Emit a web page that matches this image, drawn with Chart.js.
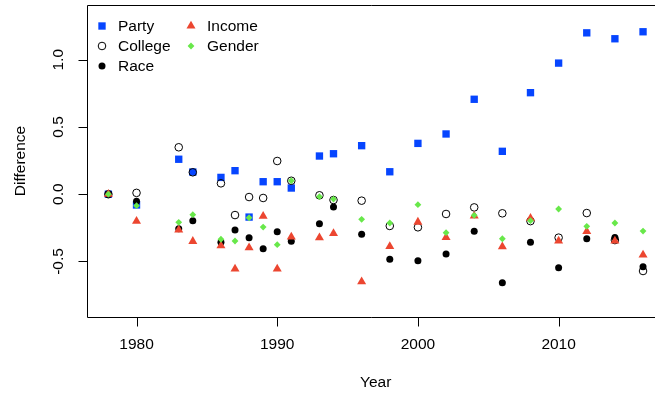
<!DOCTYPE html>
<html>
<head>
<meta charset="utf-8">
<script src="https://cdn.jsdelivr.net/npm/chart.js@4/dist/chart.umd.min.js"></script>
<style>
  html, body { margin: 0; padding: 0; background: #fff; }
  #wrap { width: 655px; height: 395px; }
</style>
</head>
<body>
<div id="wrap"><canvas id="scatter" width="655" height="395"></canvas></div>
<script>
// values
const years = [1978, 1980, 1983, 1984, 1986, 1987, 1988, 1989, 1990, 1991, 1993, 1994,
  1996, 1998, 2000, 2002, 2004, 2006, 2008, 2010, 2012, 2014, 2016];
const party = [0, -0.08, 0.26, 0.165, 0.125, 0.175, -0.17, 0.093, 0.093, 0.046, 0.284, 0.301,
  0.361, 0.167, 0.378, 0.448, 0.706, 0.319, 0.755, 0.975, 1.2, 1.156, 1.208];
const college = [0, 0.01, 0.349, 0.163, 0.081, -0.155, -0.021, -0.028, 0.247, 0.1, -0.008, -0.043,
  -0.048, -0.236, -0.246, -0.147, -0.098, -0.142, -0.2, -0.323, -0.14, -0.341, -0.571];
const race = [0, -0.053, -0.256, -0.197, -0.358, -0.266, -0.323, -0.405, -0.279, -0.35, -0.219, -0.095,
  -0.298, -0.484, -0.494, -0.445, -0.276, -0.658, -0.358, -0.546, -0.331, -0.321, -0.539];
const income = [0, -0.2, -0.266, -0.35, -0.383, -0.556, -0.398, -0.164, -0.556, -0.318, -0.323, -0.291,
  -0.65, -0.388, -0.207, -0.321, -0.162, -0.39, -0.179, -0.348, -0.276, -0.348, -0.452];
const gender = [0, -0.085, -0.209, -0.152, -0.335, -0.348, -0.175, -0.244, -0.375, 0.1, -0.018, -0.036,
  -0.187, -0.214, -0.078, -0.286, -0.157, -0.331, -0.197, -0.11, -0.239, -0.214, -0.274];

const xTicks = [1980, 1990, 2000, 2010];
const yTicks = [-0.5, 0, 0.5, 1.0];
const yTickLabels = ["-0.5", "0.0", "0.5", "1.0"];

const FONT = '15.5px "Liberation Sans", Arial, Helvetica, sans-serif';

function pts(vals) {
  return years.map((yr, i) => ({ x: yr, y: vals[i] }));
}

const series = [
  { label: "Party", data: pts(party), pointStyle: "rect", pointRadius: 5.2,
    backgroundColor: "#0645ff", borderColor: "#0645ff", borderWidth: 0, order: 5 },
  { label: "College", data: pts(college), pointStyle: "circle", pointRadius: 3.8,
    backgroundColor: "rgba(0,0,0,0)", borderColor: "#000", borderWidth: 1, order: 4 },
  { label: "Race", data: pts(race), pointStyle: "circle", pointRadius: 3.5,
    backgroundColor: "#000", borderColor: "#000", borderWidth: 0, order: 3 },
  { label: "Income", data: pts(income), pointStyle: "triangle", pointRadius: 5.2,
    backgroundColor: "#ec4630", borderColor: "#ec4630", borderWidth: 0, order: 2 },
  { label: "Gender", data: pts(gender), pointStyle: "rectRot", pointRadius: 3.4,
    backgroundColor: "#68e84a", borderColor: "#68e84a", borderWidth: 0, order: 1 },
];

// R base graphics look: open box, outward ticks, rotated y labels, legend in two columns
const rStyle = {
  id: "rStyle",
  afterDraw(chart) {
    const { ctx, chartArea: a, scales: { x, y } } = chart;
    const L = Math.round(a.left) + 0.5;
    const T = Math.round(a.top) + 0.5;
    const B = Math.round(a.bottom) + 0.5;
    ctx.save();
    ctx.strokeStyle = "#000";
    ctx.lineWidth = 1;
    ctx.beginPath();
    ctx.moveTo(chart.width + 5, T);
    ctx.lineTo(L, T);
    ctx.lineTo(L, B);
    ctx.lineTo(chart.width + 5, B);
    ctx.stroke();

    ctx.fillStyle = "#000";
    ctx.font = FONT;
    ctx.textBaseline = "middle";
    ctx.textAlign = "center";

    // x axis
    ctx.beginPath();
    xTicks.forEach(t => {
      const px = Math.round(x.getPixelForValue(t)) + 0.5;
      ctx.moveTo(px, B);
      ctx.lineTo(px, B + 9);
    });
    ctx.stroke();
    xTicks.forEach(t => ctx.fillText(String(t), x.getPixelForValue(t), a.bottom + 28));

    // y axis
    ctx.beginPath();
    yTicks.forEach(t => {
      const py = Math.round(y.getPixelForValue(t)) + 0.5;
      ctx.moveTo(L, py);
      ctx.lineTo(L - 9, py);
    });
    ctx.stroke();
    yTicks.forEach((t, i) => {
      ctx.save();
      ctx.translate(a.left - 28, y.getPixelForValue(t));
      ctx.rotate(-Math.PI / 2);
      ctx.fillText(yTickLabels[i], 0, 0);
      ctx.restore();
    });

    // axis titles
    ctx.fillText("Year", x.getPixelForValue((years[0] + years[years.length - 1]) / 2), a.bottom + 66);
    ctx.save();
    ctx.translate(a.left - 66, (a.top + a.bottom) / 2);
    ctx.rotate(-Math.PI / 2);
    ctx.fillText("Difference", 0, 0);
    ctx.restore();

    // legend
    const cols = [[0, 1, 2], [3, 4]];
    const colX = [a.left + 15, a.left + 104];
    ctx.textAlign = "left";
    cols.forEach((idx, c) => {
      idx.forEach((di, r) => {
        const ds = chart.data.datasets[di];
        const sx = colX[c];
        const sy = a.top + 21 + r * 20;
        ctx.fillStyle = ds.backgroundColor;
        ctx.strokeStyle = ds.borderColor;
        Chart.helpers.drawPoint(ctx, {
          pointStyle: ds.pointStyle,
          radius: ds.pointRadius,
          borderWidth: ds.borderWidth,
          rotation: 0,
        }, sx, sy);
        ctx.fillStyle = "#000";
        ctx.fillText(ds.label, sx + 16, sy + 0.5);
      });
    });
    ctx.restore();
  },
};

new Chart(document.getElementById("scatter").getContext("2d"), {
  type: "scatter",
  data: { datasets: series },
  options: {
    responsive: false,
    animation: false,
    events: [],
    layout: { autoPadding: false, padding: { left: 87, top: 5, right: 0, bottom: 78 } },
    scales: {
      x: { type: "linear", min: 1976.48, max: 2016.85, display: false },
      y: { type: "linear", min: -0.913, max: 1.407, display: false },
    },
    plugins: {
      legend: { display: false },
      tooltip: { enabled: false },
    },
  },
  plugins: [rStyle],
});
</script>
</body>
</html>
